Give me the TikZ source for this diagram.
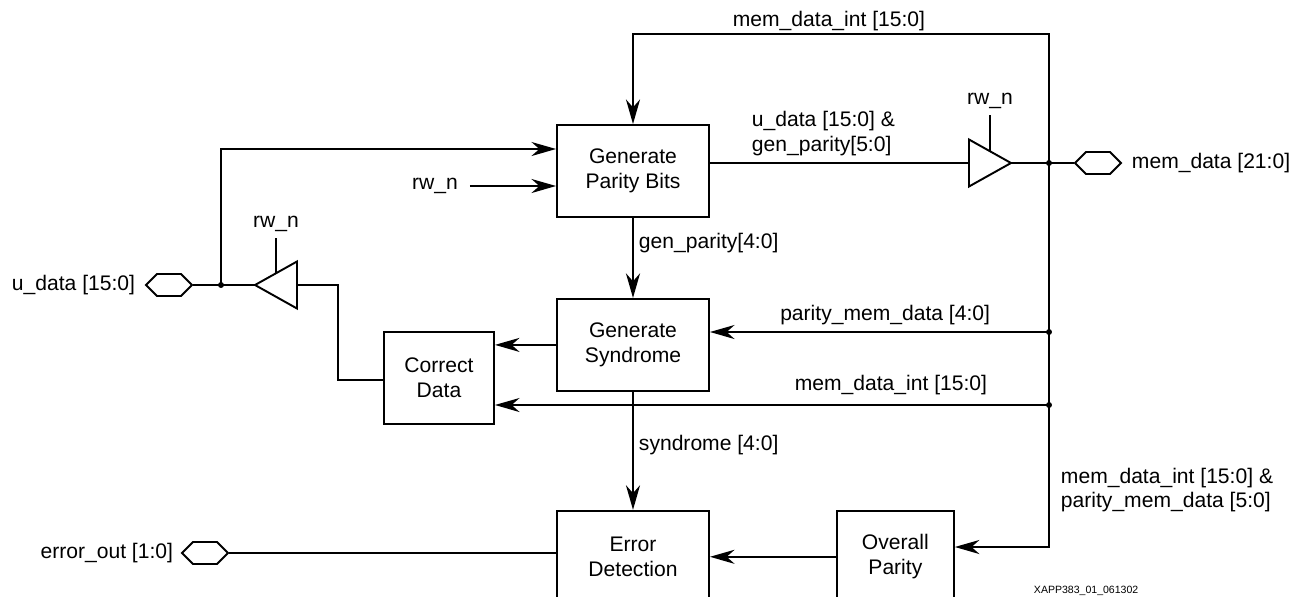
\documentclass[tikz,border=0pt]{standalone}
\usepackage{fontspec}
\setmainfont{Liberation Sans}
\usetikzlibrary{positioning,arrows.meta,shapes.geometric,shapes.symbols}

\begin{document}
\begin{tikzpicture}[x=0.02cm,y=-0.02cm,
    font=\fontsize{12}{14}\selectfont,
    line width=1.1pt,
    >={Stealth[length=14pt,width=8pt,inset=4.5pt]},
    block/.style={draw,rectangle,align=center,minimum width=3.04cm,minimum height=1.84cm,inner sep=0pt},
    buffer/.style={draw,isosceles triangle,isosceles triangle stretches,minimum width=0.94cm,minimum height=0.84cm,inner sep=0pt,outer sep=0pt},
    port/.style={draw,signal,signal to=west and east,minimum width=0.92cm,minimum height=0.44cm,inner sep=0pt},
    junction/.style={circle,fill=black,inner sep=0pt,minimum size=3.4pt},
    lbl/.style={inner sep=0pt}]
        \useasboundingbox (0,0) rectangle (1299,596);

        % blocks
        \node[block] (gpb) at (633,171) {Generate\\Parity Bits};
        \node[block] (syn) [below=1.6cm of gpb] {Generate\\Syndrome};
        \node[block] (err) [below=2.36cm of syn] {Error\\Detection};
        \node[block,minimum width=2.34cm] (ovp) [right=2.52cm of err] {Overall\\Parity};
        \node[block,minimum width=2.2cm] (cor) at (439,378) {Correct\\Data};

        % buffers and ports
        \node[buffer,anchor=lower side] (bufr) at (969,163) {};
        \node[buffer,shape border rotate=180,anchor=lower side] (bufl) at (297,285) {};
        \node[port] (pmem) at (1098,163) {};
        \node[port] (pu) at (169,285) {};
        \node[port] (perr) at (205,553) {};

        % junctions
        \node[junction] (jtop) at (1049,163) {};
        \node[junction] (jpar) at (1049,332) {};
        \node[junction] (jmem) at (1049,405) {};
        \node[junction] (ju) at (221,285) {};
        \coordinate (bustop) at (1049,34);
        \coordinate (busbot) at (1049,547);
        \coordinate (cbend) at (338,380);

        % labels
        \node[lbl] (lbus) at (829,21) {mem\_data\_int [15:0]};
        \node[lbl,anchor=west,align=left] (lout) at (751,133.5) {u\_data [15:0] \&\\gen\_parity[5:0]};
        \node[lbl] (rw1) at (435,186) {rw\_n};
        \node[lbl,anchor=west] (lgen) at (638,243) {gen\_parity[4:0]};
        \node[lbl,anchor=east] (lpar) at (991,315) {parity\_mem\_data [4:0]};
        \node[lbl,anchor=east] (lmem) at (988,385) {mem\_data\_int [15:0]};
        \node[lbl,anchor=west] (lsyn) at (638,445) {syndrome [4:0]};
        \node[lbl,anchor=west,align=left] (lall) at (1060,490) {mem\_data\_int [15:0] \&\\parity\_mem\_data [5:0]};
        \node[lbl,anchor=east] (lu) at (136,285) {u\_data [15:0]};
        \node[lbl,anchor=east] (lerr) at (174,553) {error\_out [1:0]};
        \node[lbl,anchor=west] (lmd) at (1131,163) {mem\_data [21:0]};
        \node[lbl,anchor=west,font=\fontsize{6}{7}\selectfont] (tag) at (1033,591) {XAPP383\_01\_061302};

        % connections
        \draw[<->] (ovp.east |- busbot) -- (busbot) -- (bustop) -- (bustop -| gpb) -- (gpb);
        \draw (gpb.east |- bufr.lower side) -- (bufr.lower side);
        \draw (bufr.apex) -- (pmem);
        \draw (bufr.left side) -- ++(0,-36) node (rwr) [above=3pt,lbl] {rw\_n};
        \draw (pu) -- (bufl.apex);
        \draw[->] (ju.center) |- ([yshift=0.44cm]gpb.west);
        \draw[->,shorten <=0.22cm] (rw1.east) -- (rw1 -| gpb.west);
        \draw (bufl.right side) -- ++(0,-35) node (rwl) [above=3pt,lbl] {rw\_n};
        \draw (bufl.lower side) -| (cbend) -- (cbend -| cor.west);
        \draw[->] (gpb) -- (gpb |- syn.north);
        \draw[->] (syn) -- (syn -| cor.east);
        \draw[->] (jpar.center) -- (jpar -| syn.east);
        \draw[->] (jmem.center) -- (jmem -| cor.east);
        \draw[->] (syn.south -| err) -- (err);
        \draw[->] (ovp) -- (err);
        \draw (err.west |- perr) -- (perr);
\end{tikzpicture}
\end{document}
